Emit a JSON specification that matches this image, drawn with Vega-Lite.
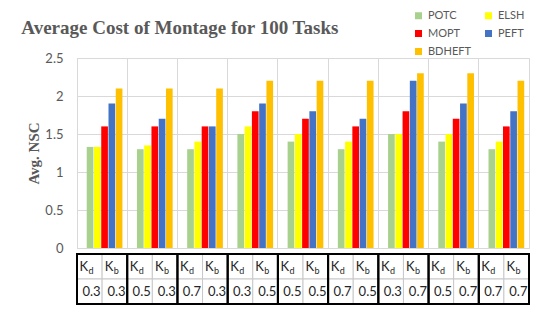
{
  "$schema": "https://vega.github.io/schema/vega-lite/v6.json",
  "padding": {"left": 21, "top": 9, "right": 5, "bottom": 5},
  "background": "white",
  "title": {
    "text": "Average Cost of Montage for 100 Tasks",
    "anchor": "start",
    "frame": "bounds",
    "font": "Liberation Serif",
    "fontSize": 19,
    "fontWeight": "bold",
    "color": "#595959",
    "offset": 0,
    "dy": 28,
    "dx": -5
  },
  "spacing": 6,
  "bounds": "flush",
  "resolve": {"scale": {"x": "independent", "xOffset": "independent", "y": "independent", "color": "independent"}},
  "vconcat": [
    {
      "width": 452,
      "height": 190,
      "view": {"stroke": "#d9d9d9"},
      "data": {
        "values": [
          {"group": "0.3|0.3", "method": "POTC", "nsc": 1.33},
          {"group": "0.3|0.3", "method": "ELSH", "nsc": 1.33},
          {"group": "0.3|0.3", "method": "MOPT", "nsc": 1.6},
          {"group": "0.3|0.3", "method": "PEFT", "nsc": 1.9},
          {"group": "0.3|0.3", "method": "BDHEFT", "nsc": 2.1},
          {"group": "0.5|0.3", "method": "POTC", "nsc": 1.3},
          {"group": "0.5|0.3", "method": "ELSH", "nsc": 1.35},
          {"group": "0.5|0.3", "method": "MOPT", "nsc": 1.6},
          {"group": "0.5|0.3", "method": "PEFT", "nsc": 1.7},
          {"group": "0.5|0.3", "method": "BDHEFT", "nsc": 2.1},
          {"group": "0.7|0.3", "method": "POTC", "nsc": 1.3},
          {"group": "0.7|0.3", "method": "ELSH", "nsc": 1.4},
          {"group": "0.7|0.3", "method": "MOPT", "nsc": 1.6},
          {"group": "0.7|0.3", "method": "PEFT", "nsc": 1.6},
          {"group": "0.7|0.3", "method": "BDHEFT", "nsc": 2.1},
          {"group": "0.3|0.5", "method": "POTC", "nsc": 1.5},
          {"group": "0.3|0.5", "method": "ELSH", "nsc": 1.6},
          {"group": "0.3|0.5", "method": "MOPT", "nsc": 1.8},
          {"group": "0.3|0.5", "method": "PEFT", "nsc": 1.9},
          {"group": "0.3|0.5", "method": "BDHEFT", "nsc": 2.2},
          {"group": "0.5|0.5", "method": "POTC", "nsc": 1.4},
          {"group": "0.5|0.5", "method": "ELSH", "nsc": 1.5},
          {"group": "0.5|0.5", "method": "MOPT", "nsc": 1.7},
          {"group": "0.5|0.5", "method": "PEFT", "nsc": 1.8},
          {"group": "0.5|0.5", "method": "BDHEFT", "nsc": 2.2},
          {"group": "0.7|0.5", "method": "POTC", "nsc": 1.3},
          {"group": "0.7|0.5", "method": "ELSH", "nsc": 1.4},
          {"group": "0.7|0.5", "method": "MOPT", "nsc": 1.6},
          {"group": "0.7|0.5", "method": "PEFT", "nsc": 1.7},
          {"group": "0.7|0.5", "method": "BDHEFT", "nsc": 2.2},
          {"group": "0.3|0.7", "method": "POTC", "nsc": 1.5},
          {"group": "0.3|0.7", "method": "ELSH", "nsc": 1.5},
          {"group": "0.3|0.7", "method": "MOPT", "nsc": 1.8},
          {"group": "0.3|0.7", "method": "PEFT", "nsc": 2.2},
          {"group": "0.3|0.7", "method": "BDHEFT", "nsc": 2.3},
          {"group": "0.5|0.7", "method": "POTC", "nsc": 1.4},
          {"group": "0.5|0.7", "method": "ELSH", "nsc": 1.5},
          {"group": "0.5|0.7", "method": "MOPT", "nsc": 1.7},
          {"group": "0.5|0.7", "method": "PEFT", "nsc": 1.9},
          {"group": "0.5|0.7", "method": "BDHEFT", "nsc": 2.3},
          {"group": "0.7|0.7", "method": "POTC", "nsc": 1.3},
          {"group": "0.7|0.7", "method": "ELSH", "nsc": 1.4},
          {"group": "0.7|0.7", "method": "MOPT", "nsc": 1.6},
          {"group": "0.7|0.7", "method": "PEFT", "nsc": 1.8},
          {"group": "0.7|0.7", "method": "BDHEFT", "nsc": 2.2}
        ]
      },
      "mark": {"type": "bar"},
      "encoding": {
        "x": {
          "field": "group", "type": "nominal", "sort": null,
          "scale": {"paddingInner": 0, "paddingOuter": 0},
          "axis": {"labels": false, "ticks": false, "tickSize": 0, "labelPadding": 0, "domain": false, "grid": true, "gridColor": "#d9d9d9", "bandPosition": 0, "title": null}
        },
        "xOffset": {
          "field": "method", "type": "nominal",
          "scale": {"domain": ["POTC", "ELSH", "MOPT", "PEFT", "BDHEFT"], "paddingInner": 0.08, "paddingOuter": 1.4, "align": 0.67}
        },
        "y": {
          "field": "nsc", "type": "quantitative",
          "scale": {"domain": [0, 2.5]},
          "axis": {
            "values": [0, 0.5, 1, 1.5, 2, 2.5], "format": "~g",
            "ticks": false, "tickSize": 0, "domain": false, "grid": true, "gridColor": "#d9d9d9",
            "labelFont": "Lato", "labelFontSize": 13, "labelColor": "#595959", "labelPadding": 14,
            "title": "Avg. NSC", "titleFont": "Liberation Serif", "titleFontSize": 15, "titleFontWeight": "bold", "titleColor": "#595959", "titlePadding": 3
          }
        },
        "color": {
          "field": "method", "type": "nominal",
          "scale": {"domain": ["POTC", "MOPT", "BDHEFT", "ELSH", "PEFT"], "range": ["#a9d18e", "#ff0000", "#ffc000", "#ffff00", "#4472c4"]},
          "legend": {
            "orient": "none", "legendX": 336, "legendY": -48, "columns": 2, "title": null,
            "symbolType": "square", "symbolSize": 49, "symbolStrokeWidth": 0,
            "labelFont": "Lato", "labelFontSize": 11, "labelColor": "#595959",
            "columnPadding": 12, "rowPadding": 6
          }
        }
      }
    },
    {
      "width": 452,
      "height": 50,
      "view": {"stroke": null},
      "data": {
        "values": [
          {"group": "0.3|0.3", "param": "d", "value": "0.3"},
          {"group": "0.3|0.3", "param": "b", "value": "0.3"},
          {"group": "0.5|0.3", "param": "d", "value": "0.5"},
          {"group": "0.5|0.3", "param": "b", "value": "0.3"},
          {"group": "0.7|0.3", "param": "d", "value": "0.7"},
          {"group": "0.7|0.3", "param": "b", "value": "0.3"},
          {"group": "0.3|0.5", "param": "d", "value": "0.3"},
          {"group": "0.3|0.5", "param": "b", "value": "0.5"},
          {"group": "0.5|0.5", "param": "d", "value": "0.5"},
          {"group": "0.5|0.5", "param": "b", "value": "0.5"},
          {"group": "0.7|0.5", "param": "d", "value": "0.7"},
          {"group": "0.7|0.5", "param": "b", "value": "0.5"},
          {"group": "0.3|0.7", "param": "d", "value": "0.3"},
          {"group": "0.3|0.7", "param": "b", "value": "0.7"},
          {"group": "0.5|0.7", "param": "d", "value": "0.5"},
          {"group": "0.5|0.7", "param": "b", "value": "0.7"},
          {"group": "0.7|0.7", "param": "d", "value": "0.7"},
          {"group": "0.7|0.7", "param": "b", "value": "0.7"}
        ]
      },
      "encoding": {
        "x": {"field": "group", "type": "nominal", "sort": null, "scale": {"paddingInner": 0, "paddingOuter": 0}, "axis": null}
      },
      "layer": [
        {
          "mark": {"type": "rect", "fill": "white", "stroke": "#c8c8c8", "strokeWidth": 1},
          "encoding": {
            "xOffset": {"field": "param", "type": "nominal", "scale": {"domain": ["d", "b"], "paddingInner": 0, "paddingOuter": 0}},
            "y": {"datum": "hdr", "type": "nominal", "scale": {"domain": ["hdr", "val"], "paddingInner": 0, "paddingOuter": 0}, "axis": null}
          }
        },
        {
          "mark": {"type": "rect", "fill": "white", "stroke": "#c8c8c8", "strokeWidth": 1},
          "encoding": {
            "xOffset": {"field": "param", "type": "nominal"},
            "y": {"datum": "val", "type": "nominal"}
          }
        },
        {
          "transform": [{"filter": "datum.param === 'd'"}],
          "mark": {"type": "rect", "fill": null, "fillOpacity": 0, "stroke": "black", "strokeWidth": 2},
          "encoding": {}
        },
        {
          "mark": {"type": "text", "align": "left", "baseline": "middle", "dx": -10, "font": "Lato", "fontSize": 13, "color": "#262626"},
          "encoding": {
            "xOffset": {"field": "param", "type": "nominal"},
            "y": {"datum": "hdr", "type": "nominal"},
            "text": {"value": "K"}
          }
        },
        {
          "mark": {"type": "text", "align": "left", "baseline": "middle", "dx": -1, "dy": 4, "font": "Lato", "fontSize": 9, "color": "#262626"},
          "encoding": {
            "xOffset": {"field": "param", "type": "nominal"},
            "y": {"datum": "hdr", "type": "nominal"},
            "text": {"field": "param", "type": "nominal"}
          }
        },
        {
          "mark": {"type": "text", "align": "right", "baseline": "middle", "dx": 11, "font": "Lato", "fontSize": 13, "color": "#262626"},
          "encoding": {
            "xOffset": {"field": "param", "type": "nominal"},
            "y": {"datum": "val", "type": "nominal"},
            "text": {"field": "value", "type": "nominal"}
          }
        }
      ]
    }
  ]
}
